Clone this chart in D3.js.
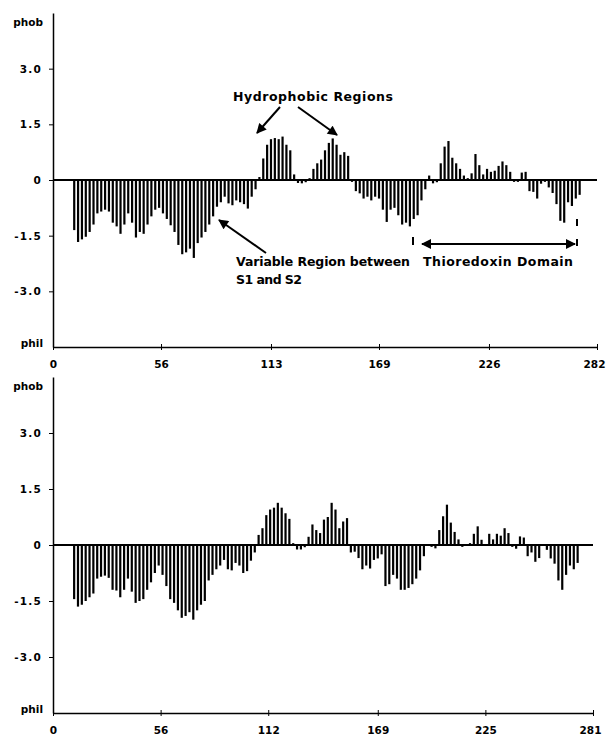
<!DOCTYPE html>
<html>
<head>
<meta charset="utf-8">
<script src="https://cdn.jsdelivr.net/npm/d3@7"></script>
<style>
  body { margin: 0; background: #fff; }
  svg { display: block; }
  .tick text, .lab { font-family: "DejaVu Sans", sans-serif; font-weight: bold; font-size: 10.5px; fill: #000; }
  .note { font-family: "DejaVu Sans", sans-serif; font-weight: bold; font-size: 12.5px; fill: #000; }
</style>
</head>
<body>
<svg id="chart" width="606" height="738"></svg>
<script>
// hydropathy values, one bar every 2nd residue starting at residue 11
const topValues = [
  -1.35, -1.67, -1.6, -1.53, -1.4, -1.2, -0.9, -0.85, -0.8, -0.85,
  -1.15, -1.25, -1.45, -1.2, -0.9, -1.15, -1.55, -1.4, -1.45, -1.2,
  -0.98, -0.8, -0.75, -0.9, -1.05, -1.22, -1.4, -1.75, -2.0, -1.95,
  -1.85, -2.1, -1.7, -1.55, -1.4, -1.2, -0.98, -0.72, -0.6, -0.45,
  -0.63, -0.68, -0.55, -0.6, -0.65, -0.77, -0.45, -0.25, 0.08, 0.58,
  0.95, 1.1, 1.13, 1.1, 1.17, 0.95, 0.8, 0.15, -0.08, -0.09,
  -0.06, 0.05, 0.3, 0.45, 0.55, 0.8, 1.0, 1.12, 0.95, 0.68,
  0.75, 0.65, -0.05, -0.3, -0.36, -0.5, -0.45, -0.55, -0.45, -0.5,
  -0.8, -1.13, -0.8, -0.75, -0.95, -1.2, -1.15, -1.25, -1.05, -0.95,
  -0.55, -0.25, 0.12, -0.09, -0.06, 0.45, 0.9, 1.05, 0.6, 0.45,
  0.3, 0.12, 0.05, 0.18, 0.7, 0.4, 0.15, 0.3, 0.22, 0.25,
  0.38, 0.5, 0.4, 0.22, -0.05, -0.05, 0.2, 0.22, -0.3, -0.32,
  -0.5, -0.1, -0.05, -0.2, -0.35, -0.65, -1.1, -1.15, -0.6, -0.7,
  -0.5, -0.4
]
const bottomValues = [
  -1.45, -1.65, -1.6, -1.5, -1.4, -1.3, -0.9, -0.85, -0.82, -0.88,
  -1.2, -1.22, -1.4, -1.2, -0.9, -1.25, -1.55, -1.5, -1.45, -1.2,
  -1.0, -0.75, -0.55, -0.8, -1.1, -1.45, -1.55, -1.75, -1.95, -1.9,
  -1.8, -2.0, -1.75, -1.6, -1.5, -0.95, -0.8, -0.65, -0.55, -0.4,
  -0.65, -0.68, -0.48, -0.55, -0.75, -0.7, -0.42, -0.2, 0.27, 0.45,
  0.8, 0.95, 1.0, 1.13, 1.0, 0.85, 0.7, 0.05, -0.12, -0.12,
  -0.06, 0.22, 0.55, 0.4, 0.32, 0.68, 0.75, 1.13, 0.95, 0.45,
  0.63, 0.72, -0.2, -0.18, -0.35, -0.65, -0.55, -0.63, -0.4, -0.36,
  -0.25, -1.1, -1.05, -0.8, -0.9, -1.2, -1.2, -1.15, -1.05, -0.9,
  -0.68, -0.3, 0.02, -0.05, -0.09, 0.4, 0.77, 1.08, 0.6, 0.35,
  0.15, -0.05, 0.0, 0.05, 0.3, 0.5, 0.14, -0.02, 0.3, 0.15,
  0.3, 0.25, 0.45, 0.32, -0.05, -0.1, 0.23, 0.2, -0.3, -0.2,
  -0.45, -0.35, -0.02, -0.13, -0.36, -0.5, -0.95, -1.2, -0.8, -0.55,
  -0.65, -0.48
]
const firstResidue = 11
const residueStep = 2

const topTicks = [0, 56, 113, 169, 226, 282]
const bottomTicks = [0, 56, 112, 169, 225, 281]
const yTicks = [3, 1.5, 0, -1.5, -3]
const yTickLabels = ["3.0", "1.5", "0", "-1.5", "-3.0"]

const svg = d3.select("#chart")

function drawPanel(values, ticks, top, bottom, right) {
    const g = svg.append("g")
    const x = d3.scaleLinear().domain([0, ticks[ticks.length - 1]]).range([53, right])
    const y = d3.scaleLinear().domain([-4.5, 4.5]).range([bottom, top])
    const data = values.map((v, i) => ({r: firstResidue + i * residueStep, v: v}))

    g.selectAll(".bar")
        .data(data)
        .enter()
        .append("rect")
        .attr("class", "bar")
        .attr("x", (d) => x(d.r) - 1.1)
        .attr("width", 2.2)
        .attr("y", (d) => Math.min(y(d.v), y(0)))
        .attr("height", (d) => Math.abs(y(d.v) - y(0)))
        .attr("fill", "#000")

    // zero line
    g.append("line")
        .attr("x1", x(0)).attr("x2", x.range()[1])
        .attr("y1", y(0)).attr("y2", y(0))
        .style("stroke", "#000")
        .style("stroke-width", "1.8px")

    const xa = g.append("g")
        .attr("transform", "translate(0," + y(-4.5) + ")")
        .call(d3.axisBottom(x).tickValues(ticks).tickSizeInner(3).tickSizeOuter(0).tickPadding(11).tickFormat(d3.format("d")))
    xa.selectAll(".tick line").attr("y1", -3)
    xa.select(".domain").style("stroke-width", "1.5px")
    xa.selectAll(".tick text").filter((d, i) => i == ticks.length - 1).attr("dx", "-3")

    const ya = g.append("g")
        .attr("transform", "translate(" + x(0) + ",0)")
        .call(d3.axisLeft(y).tickValues(yTicks).tickSizeInner(4).tickSizeOuter(0).tickPadding(7)
            .tickFormat((d, i) => yTickLabels[i]))
    ya.select(".domain").style("stroke-width", "1.5px")
    ya.selectAll(".tick text").attr("letter-spacing", "1.2px")

    g.append("text").attr("class", "lab").attr("x", 43).attr("y", y(4.25)).attr("dy", "0.35em")
        .attr("text-anchor", "end").text("phob")
    g.append("text").attr("class", "lab").attr("x", 43).attr("y", y(-4.4)).attr("dy", "0.35em")
        .attr("text-anchor", "end").text("phil")

    svg.selectAll(".domain, .tick line").style("stroke", "#000")
    return {x: x, y: y}
}

drawPanel(topValues, topTicks, 13, 347, 597)
drawPanel(bottomValues, bottomTicks, 377, 713, 593)

// annotations on the upper plot
svg.append("defs").append("marker")
    .attr("id", "head")
    .attr("viewBox", "0 0 10 10")
    .attr("refX", 9).attr("refY", 5)
    .attr("markerWidth", 11).attr("markerHeight", 10)
    .attr("markerUnits", "userSpaceOnUse")
    .attr("orient", "auto-start-reverse")
    .append("path")
    .attr("d", "M0,0 L10,5 L0,10 Z")
    .attr("fill", "#000")

function arrow(x1, y1, x2, y2, both) {
    const l = svg.append("line")
        .attr("x1", x1).attr("y1", y1).attr("x2", x2).attr("y2", y2)
        .style("stroke", "#000").style("stroke-width", "2px")
        .attr("marker-end", "url(#head)")
    if (both) l.attr("marker-start", "url(#head)")
}

function note(x, y, len, s) {
    svg.append("text").attr("class", "note").attr("x", x).attr("y", y)
        .attr("textLength", len).attr("lengthAdjust", "spacing").text(s)
}

note(233, 101, 160, "Hydrophobic Regions")
arrow(280, 107, 257, 133)
arrow(298, 107, 337, 135)

note(236, 266, 174, "Variable Region between")
note(236, 284, 66, "S1 and S2")
arrow(266, 253, 219, 220)

note(423, 266, 150, "Thioredoxin Domain")
arrow(422, 244, 575, 244, true)
svg.append("line").attr("x1", 413).attr("x2", 413).attr("y1", 237).attr("y2", 245)
    .style("stroke", "#000").style("stroke-width", "2px")
svg.append("line").attr("x1", 577).attr("x2", 577).attr("y1", 219).attr("y2", 247)
    .style("stroke", "#000").style("stroke-width", "2px").style("stroke-dasharray", "7,13")
</script>
</body>
</html>
